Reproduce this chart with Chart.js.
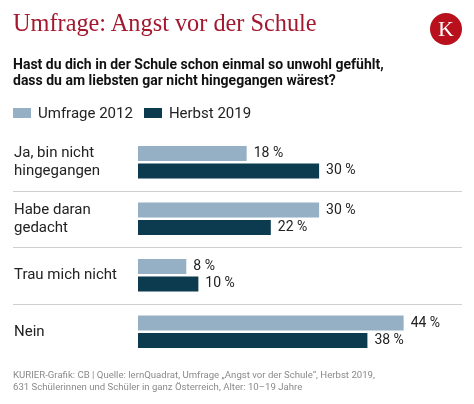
<!DOCTYPE html>
<html lang="de">
<head>
<meta charset="utf-8">
<title>Umfrage: Angst vor der Schule</title>
<script src="https://cdn.jsdelivr.net/npm/chart.js@4.4.1/dist/chart.umd.min.js"></script>
<style>
    html, body { margin: 0; padding: 0; background: #fff; }
    #wrap { position: relative; width: 474px; height: 404px; overflow: hidden; font-family: Roboto, "Noto Sans", sans-serif; }
    #chart { position: absolute; left: 0; top: 0; }
    .title { position: absolute; left: 13px; top: 9px; font-family: "Liberation Serif", serif; font-size: 24.3px; color: #a3182e; white-space: nowrap; }
    .logo { position: absolute; left: 430px; top: 13px; width: 32px; height: 32px; border-radius: 50%; background: #b8111d; color: #fff; font-family: "Liberation Serif", serif; font-size: 22px; line-height: 32px; text-align: center; }
    .subtitle { position: absolute; left: 13px; top: 56px; font-size: 14px; font-weight: 700; line-height: 16px; color: #111; white-space: nowrap; }
    .legend { position: absolute; left: 13px; top: 102px; font-size: 15px; color: #222; white-space: nowrap; }
    .legend span { display: inline-block; vertical-align: middle; }
    .legend .box { width: 18px; height: 10px; margin-right: 7px; }
    .legend .item { margin-right: 11px; }
    .footer { position: absolute; left: 13px; top: 369px; font-size: 9.6px; line-height: 12px; color: #8a8a8a; white-space: nowrap; }
</style>
</head>
<body>
<div id="wrap">
    <canvas id="chart" width="474" height="404"></canvas>
    <div class="title">Umfrage: Angst vor der Schule</div>
    <div class="logo">K</div>
    <div class="subtitle">Hast du dich in der Schule schon einmal so unwohl gefühlt,<br>dass du am liebsten gar nicht hingegangen wärest?</div>
    <div class="legend" id="legend"></div>
    <div class="footer">KURIER-Grafik: CB | Quelle: lernQuadrat, Umfrage „Angst vor der Schule“, Herbst 2019,<br>631 Schülerinnen und Schüler in ganz Österreich, Alter: 10–19 Jahre</div>
</div>
<script>
// Daten der Umfrage
const categories = [
    ['Ja, bin nicht', 'hingegangen'],
    ['Habe daran', 'gedacht'],
    'Trau mich nicht',
    'Nein'
];
const seriesNames = ['Umfrage 2012', 'Herbst 2019'];
const values2012 = [18, 30, 8, 44];
const values2019 = [30, 22, 10, 38];
const seriesColors = ['#95afc4', '#0c3a4f'];

// Legende als HTML
const legendEl = document.getElementById('legend');
seriesNames.forEach((name, i) => {
    legendEl.innerHTML += '<span class="item"><span class="box" style="background:' + seriesColors[i] + '"></span><span>' + name + '</span></span>';
});

// Trennlinien zwischen den Kategorien
const separatorPlugin = {
    id: 'separators',
    beforeDatasetsDraw(chart) {
        const y = chart.scales.y;
        const ctx = chart.ctx;
        ctx.save();
        ctx.strokeStyle = '#cfcfcf';
        ctx.lineWidth = 1;
        for (let i = 0; i < categories.length - 1; i++) {
            const yy = Math.round((y.getPixelForValue(i) + y.getPixelForValue(i + 1)) / 2) + 0.5;
            ctx.beginPath();
            ctx.moveTo(13, yy);
            ctx.lineTo(462, yy);
            ctx.stroke();
        }
        ctx.restore();
    }
};

// Prozentwerte rechts neben den Balken
const valueLabelPlugin = {
    id: 'valueLabels',
    afterDatasetsDraw(chart) {
        const ctx = chart.ctx;
        ctx.save();
        ctx.font = '14px Roboto, sans-serif';
        ctx.fillStyle = '#222';
        ctx.textAlign = 'left';
        ctx.textBaseline = 'middle';
        chart.data.datasets.forEach((ds, di) => {
            chart.getDatasetMeta(di).data.forEach((bar, i) => {
                ctx.fillText(ds.data[i] + ' %', bar.x + 7, bar.y);
            });
        });
        ctx.restore();
    }
};

new Chart(document.getElementById('chart'), {
    type: 'bar',
    data: {
        labels: categories,
        datasets: [{
            label: seriesNames[0],
            data: values2012,
            backgroundColor: seriesColors[0]
        }, {
            label: seriesNames[1],
            data: values2019,
            backgroundColor: seriesColors[1]
        }]
    },
    options: {
        indexAxis: 'y',
        responsive: false,
        animation: false,
        categoryPercentage: 0.617,
        barPercentage: 0.857,
        layout: {
            padding: { top: 134, bottom: 44, left: 14, right: 10 }
        },
        plugins: {
            legend: { display: false },
            tooltip: { enabled: false }
        },
        scales: {
            x: {
                display: false,
                min: 0,
                max: 54
            },
            y: {
                grid: { display: false },
                border: { display: false },
                afterFit(scale) { scale.width = 124; },
                ticks: {
                    crossAlign: 'far',
                    padding: 0,
                    color: '#222',
                    font: { family: 'Roboto, sans-serif', size: 15, lineHeight: 1.2 }
                }
            }
        }
    },
    plugins: [separatorPlugin, valueLabelPlugin]
});
</script>
</body>
</html>
